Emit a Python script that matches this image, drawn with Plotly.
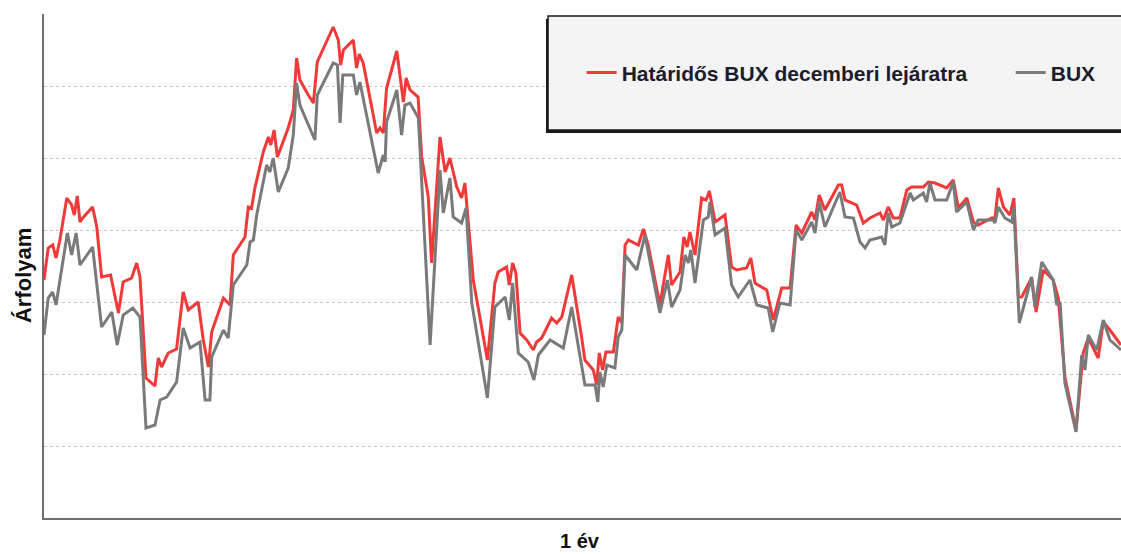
import plotly.graph_objects as go

# Határidős BUX decemberi lejáratra (piros)
fut_day = [0, 1.4, 2.9, 4.0, 5.3, 7.6, 9.2, 10.1, 11.1, 12.0, 12.9, 16.2, 17.6, 19.2, 22.2, 24.8, 26.4, 29.2, 30.9, 32.0,
           34.0, 37.0, 38.1, 39.2, 41.4, 44.2, 46.4, 48.1, 51.4, 53.1, 54.8, 55.9, 59.8, 62.0, 63.1, 67.0, 68.1, 69.2, 70.3, 73.1,
           74.8, 75.6, 76.7, 77.8, 81.4, 83.1, 84.2, 85.3, 88.1, 89.8, 91.1, 96.4, 98.1, 98.9, 99.8, 103.1, 104.2, 105.1, 106.4, 110.9,
           112.0, 113.1, 114.2, 117.6, 119.8, 120.7, 122.0, 124.7, 125.9, 128.1, 129.2, 132.0, 133.7, 135.3, 137.6, 139.2, 140.3, 142.0, 143.1, 147.8,
           150.3, 151.4, 154.2, 155.1, 156.2, 157.3, 158.7, 160.9, 163.1, 164.2, 165.9, 169.2, 170.9, 172.6, 175.9, 179.2, 180.3, 183.1, 184.2, 185.1,
           186.2, 187.3, 189.8, 191.4, 192.6, 193.7, 194.8, 198.1, 199.8, 201.4, 205.3, 208.1, 209.2, 212.0, 213.3, 214.4, 215.3, 217.0, 219.2, 220.7,
           221.8, 223.7, 227.0, 229.2, 230.9, 234.2, 235.6, 237.0, 240.9, 243.1, 245.9, 248.7, 250.7, 252.6, 255.9, 257.0, 258.4, 260.3, 264.8, 265.9,
           267.0, 270.9, 273.1, 275.3, 278.7, 279.8, 281.4, 283.1, 285.3, 287.6, 289.2, 293.1, 294.8, 297.0, 300.9, 303.1, 304.8, 307.6, 309.8, 311.4,
           315.9, 317.0, 318.1, 319.8, 322.0, 323.3, 324.8, 325.9, 329.2, 330.7, 333.1, 336.4, 338.1, 340.3, 344.0, 346.4, 348.1, 351.4, 353.1, 355.3,
           359.0]
fut_val = [14380, 14700, 14730, 14600, 14780, 15200, 15130, 15030, 15220, 14960, 15000, 15110, 14910, 14410, 14430, 14050, 14360, 14400, 14550, 14410,
           13400, 13320, 13600, 13510, 13650, 13690, 14260, 14080, 14160, 13780, 13510, 13860, 14200, 14130, 14630, 14810, 15110, 15100, 15300, 15660,
           15810, 15730, 15880, 15610, 15900, 16080, 16600, 16380, 16230, 16150, 16560, 16910, 16780, 16530, 16680, 16780, 16500, 16640, 16550, 15850,
           15900, 15850, 16300, 16670, 16160, 16400, 16280, 16210, 15610, 15210, 14550, 15810, 15460, 15600, 15310, 15200, 15350, 14750, 14380, 13580,
           14350, 14460, 14510, 14330, 14550, 14450, 13850, 13780, 13680, 13760, 13800, 14000, 13950, 14010, 14430, 13810, 13580, 13480, 13330, 13650,
           13480, 13660, 13660, 14010, 13950, 14730, 14780, 14730, 14890, 14730, 14130, 14630, 14330, 14460, 14810, 14710, 14860, 14630, 15200, 15180,
           15270, 14960, 15030, 14510, 14480, 14500, 14600, 14350, 14280, 13980, 14300, 14300, 14930, 14850, 15060, 14980, 15230, 15080, 15330, 15330,
           15180, 15130, 14950, 15000, 15050, 14980, 15110, 15000, 15000, 15280, 15310, 15310, 15360, 15350, 15300, 15380, 15100, 15200, 14960, 14930,
           15000, 15000, 15300, 15110, 15030, 15200, 14210, 14210, 14400, 14060, 14480, 14380, 14200, 13410, 12880, 13650, 13800, 13600, 13960, 13880,
           13730]

# BUX (szürke)
bux_day = [0, 1.4, 2.9, 4.0, 7.8, 9.2, 10.7, 12.0, 16.2, 19.2, 22.6, 24.4, 26.4, 29.6, 32.0, 34.0, 37.0, 38.7, 40.9, 44.2,
           46.4, 48.7, 52.0, 53.7, 55.3, 55.9, 59.8, 61.4, 63.1, 67.6, 68.7, 69.8, 70.9, 74.2, 75.3, 76.4, 78.1, 81.4, 83.1, 84.2,
           85.3, 90.3, 91.1, 96.4, 97.8, 98.7, 99.6, 103.1, 104.2, 105.3, 111.4, 113.1, 113.7, 114.2, 117.6, 119.2, 120.3, 122.0, 124.8, 128.7,
           132.0, 133.1, 135.3, 136.4, 139.2, 140.7, 142.6, 147.8, 150.3, 153.7, 155.1, 156.2, 158.1, 161.4, 163.3, 164.8, 168.7, 173.1, 175.9, 180.3,
           183.7, 184.6, 185.3, 186.4, 187.6, 190.3, 191.4, 192.6, 193.7, 197.6, 200.3, 205.3, 207.8, 209.2, 212.0, 213.7, 214.8, 215.6, 217.0, 219.8,
           221.4, 222.0, 223.7, 227.0, 229.2, 231.4, 235.3, 237.6, 241.4, 242.9, 245.3, 248.7, 250.7, 252.6, 255.9, 257.0, 258.4, 260.3, 265.3, 267.0,
           269.8, 272.0, 273.7, 275.3, 279.2, 280.3, 281.4, 282.6, 285.3, 288.7, 289.8, 293.1, 294.2, 295.3, 297.0, 300.9, 303.1, 304.2, 307.6, 309.8,
           311.4, 316.4, 317.0, 318.1, 320.3, 322.6, 323.3, 325.1, 329.2, 330.3, 332.6, 336.4, 337.6, 338.7, 340.3, 344.0, 345.9, 347.0, 348.1, 350.9,
           353.1, 355.3, 359.0]
bux_val = [13830, 14200, 14260, 14130, 14850, 14630, 14850, 14530, 14710, 13910, 14060, 13730, 14030, 14100, 14010, 12900, 12930, 13180, 13210, 13360,
           13900, 13700, 13760, 13180, 13180, 13610, 13880, 13800, 14330, 14530, 14760, 14780, 15030, 15530, 15460, 15600, 15260, 15500, 15830, 16350,
           16130, 15780, 16230, 16550, 16530, 15950, 16430, 16430, 16230, 16360, 15450, 15630, 15560, 15960, 16280, 15830, 16130, 16150, 16000, 13730,
           15480, 15050, 15400, 15010, 14950, 15100, 14150, 13200, 14110, 14210, 13980, 14350, 13650, 13560, 13380, 13630, 13780, 13700, 14110, 13330,
           13330, 13160, 13460, 13310, 13530, 13500, 13810, 13880, 14630, 14480, 14830, 14050, 14380, 14110, 14280, 14630, 14550, 14680, 14350, 14980,
           15010, 15160, 14830, 14900, 14330, 14210, 14380, 14130, 14100, 13860, 14150, 14130, 14880, 14780, 14960, 14850, 15160, 14910, 15260, 15010,
           15000, 14760, 14700, 14780, 14810, 14730, 15050, 14910, 14950, 15250, 15180, 15250, 15160, 15350, 15180, 15180, 15360, 15060, 15160, 14880,
           14980, 14980, 14950, 15110, 15000, 14960, 15110, 13950, 14410, 14110, 14560, 14380, 14130, 14160, 13350, 12860, 13630, 13480, 13830, 13680,
           13980, 13780, 13680]

series_names = ["Határidős BUX decemberi lejáratra", "BUX"]
x_title = "1 év"
y_title = "Árfolyam"
grid_levels = [12720, 13440, 14160, 14880, 15600, 16320, 17040]

FONT = "Liberation Sans, Arial, sans-serif"
LEG_FONT = dict(family=FONT, size=21, color="#1c1c2c", weight="bold")

fig = go.Figure()
fig.add_trace(go.Scatter(x=fut_day, y=fut_val, mode="lines", name=series_names[0],
                         line=dict(color="#f03a3a", width=3), legend="legend"))
fig.add_trace(go.Scatter(x=bux_day, y=bux_val, mode="lines", name=series_names[1],
                         line=dict(color="#7a7a7a", width=3), legend="legend2"))

fig.update_layout(
    width=1121, height=554,
    margin=dict(l=44, r=0, t=14, b=36, autoexpand=False),
    paper_bgcolor="white", plot_bgcolor="white",
    font=dict(family=FONT, color="#1a1a1a"),
    showlegend=True,
    legend=dict(orientation="h", x=0.4992, y=0.883, xanchor="left", yanchor="middle",
                bgcolor="rgba(0,0,0,0)", borderwidth=0, font=LEG_FONT),
    legend2=dict(orientation="h", x=0.8976, y=0.883, xanchor="left", yanchor="middle",
                 bgcolor="rgba(0,0,0,0)", borderwidth=0, font=LEG_FONT),
    xaxis=dict(range=[0, 359], showgrid=False, zeroline=False, showticklabels=False, ticks="",
               showline=True, linecolor="#6e6e6e", linewidth=2),
    yaxis=dict(range=[12000, 17040], tickmode="array", tickvals=grid_levels,
               showgrid=True, gridcolor="#c4c4c4", gridwidth=1, griddash="dot",
               zeroline=False, showticklabels=False, ticks="",
               showline=True, linecolor="#6e6e6e", linewidth=2),
    shapes=[
        dict(type="rect", xref="paper", yref="paper", x0=0.4661, x1=1.02, y0=0.7639, y1=0.990,
             fillcolor="#1a1a1a", line=dict(width=0), layer="above"),
        dict(type="rect", xref="paper", yref="paper", x0=0.468, x1=1.02, y0=0.770, y1=0.996,
             fillcolor="#f4f4f4", line=dict(color="#1a1a1a", width=1.5), layer="above"),
    ],
    annotations=[
        dict(text=y_title, xref="paper", yref="paper", x=-0.0195, y=0.482, textangle=-90,
             showarrow=False, xanchor="center", yanchor="middle",
             font=dict(family=FONT, size=22, color="#111111", weight="bold")),
        dict(text=x_title, xref="paper", yref="paper", x=0.4977, y=-0.046,
             showarrow=False, xanchor="center", yanchor="middle",
             font=dict(family=FONT, size=20, color="#111111", weight="bold")),
    ],
)

fig.write_html(
    "out.html",
    config={"displayModeBar": False},
    post_script="document.body.style.margin='0';document.body.style.overflow='hidden';",
)
